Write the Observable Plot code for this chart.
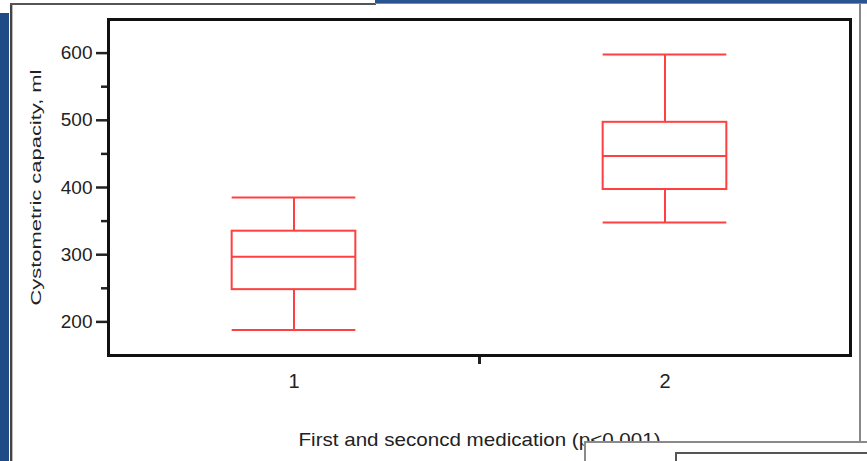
<!DOCTYPE html>
<html>
<head>
<meta charset="utf-8">
<script src="https://cdn.jsdelivr.net/npm/d3@7"></script>
<script src="https://cdn.jsdelivr.net/npm/@observablehq/plot@0.6"></script>
<style>
  html, body { margin: 0; padding: 0; background: #fff; }
  #wrap { position: relative; width: 867px; height: 461px; overflow: hidden; background: #fff; }
  #chart { position: absolute; left: 0; top: 0; }
  .deco { position: absolute; }
</style>
</head>
<body>
<div id="wrap">
  <div id="chart"></div>
  <div class="deco" style="left:0;top:13px;width:9px;bottom:0;background:#1f4a86;"></div>
  <div class="deco" style="left:10px;top:3px;width:2px;bottom:0;background:#444;"></div>
  <div class="deco" style="left:12px;top:3px;width:1px;bottom:0;background:#bbb;"></div>
  <div class="deco" style="left:10px;top:3px;width:366px;height:2px;background:#555;"></div>
  <div class="deco" style="left:375px;top:0;right:0;height:3px;background:#2a5590;"></div>
  <div class="deco" style="left:375px;top:3px;right:0;height:1px;background:#888;"></div>
  <div class="deco" style="left:859px;top:4px;width:2px;height:438px;background:#888;"></div>
  <div class="deco" style="left:584px;top:441px;right:0;bottom:0;background:#fff;border-top:2px solid #8a8a8a;border-left:2px solid #8a8a8a;"></div>
  <div class="deco" style="left:675px;top:452px;right:0;bottom:0;border-top:2px solid #555;border-left:2px solid #555;"></div>
</div>
<script>
const groups = [1, 2];
const whiskerLow = [188, 348];
const q1 = [248, 397];
const median = [297, 447];
const q3 = [335, 497];
const whiskerHigh = [385, 598];

const yMajorTicks = [200, 300, 400, 500, 600];
const yMinorTicks = [250, 350, 450, 550];
const xTicks = [1, 2];
const xBoundaryTicks = [1.5];

const yTitle = "Cystometric capacity, ml";
const xTitle = "First and seconcd medication (p<0.001)";

const rows = groups.map((g, i) => ({
  g, low: whiskerLow[i], q1: q1[i], median: median[i], q3: q3[i], high: whiskerHigh[i]
}));

const half = 1 / 6;
const red = "#ff4040";
const font = "'Liberation Sans', Arial, sans-serif";

const chart = Plot.plot({
  width: 867,
  height: 461,
  marginLeft: 108,
  marginRight: 17,
  marginTop: 19,
  marginBottom: 106,
  style: { fontFamily: font, fontSize: "20px", background: "transparent", color: "#222" },
  x: { domain: [0.5, 2.5] },
  y: { domain: [150, 650] },
  marks: [
    Plot.ruleX(rows, { x: "g", y1: "q3", y2: "high", stroke: red, strokeWidth: 2 }),
    Plot.ruleX(rows, { x: "g", y1: "low", y2: "q1", stroke: red, strokeWidth: 2 }),
    Plot.ruleY(rows, { y: "high", x1: d => d.g - half, x2: d => d.g + half, stroke: red, strokeWidth: 2 }),
    Plot.ruleY(rows, { y: "low", x1: d => d.g - half, x2: d => d.g + half, stroke: red, strokeWidth: 2 }),
    Plot.rect(rows, { x1: d => d.g - half, x2: d => d.g + half, y1: "q1", y2: "q3", fill: "none", stroke: red, strokeWidth: 2 }),
    Plot.ruleY(rows, { y: "median", x1: d => d.g - half, x2: d => d.g + half, stroke: red, strokeWidth: 2 }),
    Plot.axisY({ ticks: yMajorTicks, tickSize: 12, tickPadding: 4, strokeWidth: 2.5, fontSize: 20,
      label: yTitle, labelAnchor: "center", labelArrow: "none", labelOffset: 78 }),
    Plot.axisY({ ticks: yMinorTicks, tickSize: 7, strokeWidth: 2.5, tickFormat: () => "", label: null }),
    Plot.axisX({ ticks: xTicks, tickSize: 0, tickPadding: 18, fontSize: 20, tickFormat: d3.format("d"),
      label: xTitle, labelAnchor: "center", labelArrow: "none", labelOffset: 90 }),
    Plot.axisX({ ticks: xBoundaryTicks, tickSize: 9, strokeWidth: 3, tickFormat: () => "", label: null }),
    Plot.frame({ stroke: "#111", strokeWidth: 3 })
  ]
});
document.getElementById("chart").appendChild(chart);
const svg = d3.select(chart);
svg.selectAll('[aria-label="y-axis tick label"], [aria-label="y-axis tick label"] text')
  .attr("font-size", 19).style("font-size", "19px");
svg.selectAll('[aria-label="x-axis tick label"], [aria-label="x-axis tick label"] text')
  .attr("font-size", 20).style("font-size", "20px");
svg.selectAll('[aria-label="y-axis label"] text')
  .attr("font-size", 15).style("font-size", "15px").attr("textLength", 236).attr("lengthAdjust", "spacingAndGlyphs");
svg.selectAll('[aria-label="x-axis label"] text')
  .attr("font-size", 19).style("font-size", "19px").attr("textLength", 362).attr("lengthAdjust", "spacingAndGlyphs");
</script>
</body>
</html>
